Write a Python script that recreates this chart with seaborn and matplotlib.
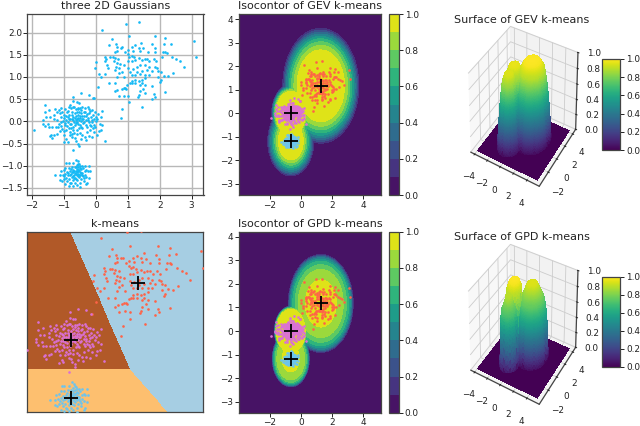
import numpy as np
import matplotlib
matplotlib.use("Agg")
import matplotlib.pyplot as plt
import seaborn as sns
from matplotlib.colors import Normalize
from matplotlib.cm import ScalarMappable

cluster_a = [(0.21,2.07),(0.96,2.19),(1.34,2.23),(1.04,1.92),(1.84,1.92),(2.17,1.88),(2.35,1.75),(2.14,1.74),(0.52,1.86),(3.08,1.82),(3.13,1.46),(0.42,1.71),(0.64,1.74),(0.66,1.67),(0.66,1.59),(0.78,1.66),(0.83,1.68),(0.59,1.57),(0.91,1.57),(1.01,1.61),(1.13,1.67),(1.23,1.71),(1.42,1.77),(1.36,1.66),(1.49,1.65),(1.39,1.59),(1.16,1.59),(1.62,1.57),(1.77,1.74),(1.85,1.65),(1.86,1.57),(2.09,1.56),(2.17,1.56),(2.22,1.55),(0,1.33),(-0.02,1.2),(0.3,1.46),(0.33,1.4),(0.3,1.35),(0.34,1.27),(0.38,1.21),(0.45,1.44),(0.53,1.44),(0.61,1.42),(0.57,1.36),(0.66,1.31),(0.71,1.41),(0.64,1.23),(0.76,1.29),(0.87,1.27),(0.73,1.21),(0.6,1.16),(0.81,1.11),(0.73,1.08),(0.66,0.99),(0.89,0.99),(1.0,1.51),(1.05,1.46),(1.13,1.48),(1.2,1.44),(1.02,1.35),(1.13,1.35),(1.23,1.38),(1.34,1.42),(1.44,1.38),(1.53,1.4),(1.6,1.41),(1.68,1.35),(1.81,1.4),(1.88,1.35),(2.07,1.44),(2.38,1.46),(2.52,1.41),(2.64,1.37),(2.75,1.22),(2.41,1.1),(2.26,1.02),(2.04,1.11),(1.96,1.14),(2.12,1.03),(1.91,1.2),(1.96,1.01),(2.04,0.93),(2,0.89),(1.86,1.23),(1.65,1.23),(1.55,1.27),(1.39,1.27),(1.29,1.23),(1.02,1.2),(1.16,1.18),(1.06,1.11),(1.29,1.12),(1.44,1.14),(1.6,1.16),(1.76,1.14),(1.13,1.05),(1.23,1.05),(1.39,1.06),(1.55,1.05),(1.65,1.05),(1.55,0.97),(1.44,0.93),(1.34,0.91),(1.23,0.93),(1.13,0.91),(1.06,0.86),(0.99,0.83),(1.13,0.86),(1.23,0.86),(1.37,0.82),(1.44,0.86),(1.55,0.82),(1.76,0.8),(1.49,0.73),(1.37,0.68),(1.34,0.59),(1.32,0.55),(1.55,0.63),(1.83,0.62),(1.86,0.56),(1.76,0.5),(2.18,0.66),(0.92,0.76),(0.87,0.76),(0.81,0.74),(0.95,0.73),(0.61,0.86),(0.68,0.71),(0.61,0.68),(0.4,0.86),(0.07,0.78),(-0.05,0.52),(0.16,0.99),(0.1,1.06),(0.3,1.06),(1.02,0.57),(0.89,0.58),(0.73,0.57),(1.04,0.43),(0.83,0.28),(0.78,0.08),(1.46,0.32)]
cluster_b = [(-1.92,-0.2),(0.3,-0.44),(-0.45,0.63),(-0.22,0.6),(-0.08,0.52),(-0.7,0.56),(-0.6,0.43),(-0.53,0.42),(-0.7,0.45),(-1.6,0.37),(-1.6,0.2),(-1.55,0.1),(-1.65,-0.05),(-1.65,0.02),(-1.6,-0.1),(-1.45,0.25),(-1.42,0.1),(-1.5,-0.05),(-1.45,-0.12),(-1.38,-0.12),(-1.3,0.15),(-1.25,-0.12),(-1.39,-0.3),(-1.42,-0.33),(-1.38,-0.38),(-1.3,-0.3),(-1.22,-0.28),(-1.12,-0.22),(-1.05,-0.18),(-1.0,-0.47),(-0.98,-0.3),(-0.92,-0.4),(-0.88,-0.46),(-0.82,-0.3),(-0.8,-0.24),(-0.73,-0.36),(-0.62,-0.45),(-0.55,-0.5),(-0.53,-0.56),(-0.72,-0.65),(-1.1,0.3),(-1.12,0.18),(-1.1,0.1),(-1.05,0.22),(-1.0,0.08),(-1.02,0),(-0.95,-0.03),(-0.92,0.03),(-0.88,0.1),(-0.85,0.05),(-0.82,-0.05),(-0.9,-0.1),(-0.85,-0.15),(-0.78,0.3),(-0.75,0.15),(-0.72,0.1),(-0.7,0.02),(-0.65,-0.08),(-0.65,0.18),(-0.62,0.12),(-0.6,0.05),(-0.58,-0.02),(-0.55,0.3),(-0.52,0.2),(-0.5,0.12),(-0.48,0.07),(-0.45,0),(-0.5,-0.08),(-0.52,-0.15),(-0.6,-0.2),(-0.42,-0.15),(-0.4,0.05),(-0.38,0.2),(-0.35,0.3),(-0.32,0.12),(-0.3,0.02),(-0.3,-0.08),(-0.28,-0.25),(-0.25,0.33),(-0.22,0.28),(-0.2,0.18),(-0.15,0.1),(-0.12,0.03),(-0.15,-0.1),(-0.1,-0.15),(-0.07,-0.25),(-0.03,0.22),(0,0.1),(0.02,0),(0.2,0.23),(0.15,0.1),(0.12,-0.05),(0.2,-0.08),(0.17,-0.2),(0.1,-0.22),(0.05,-0.3),(0.08,0.17),(-0.35,-0.35),(-0.42,-0.3),(-0.32,-0.42),(-0.75,0.2),(-0.8,0.38),(-0.85,0.33),(-0.72,0.32),(-0.68,0.32),(-0.95,0.28),(-0.9,0.22),(-0.98,0.15),(-0.7,-0.12),(-0.78,-0.15),(-0.72,-0.2),(-0.6,-0.28),(-0.65,-0.38),(-1.1,-0.02),(-1.2,0.02),(-1.15,-0.05),(-1.3,0.05),(-0.45,0.25),(-0.42,0.12),(-0.55,0.08),(-0.62,-0.03),(-0.25,0.08),(-0.22,-0.02),(-0.05,0.05),(-0.18,-0.2),(-0.55,0.27),(-0.48,0.3),(-1.22,0.2),(-0.6,0.22),(-0.62,0.28),(-1.15,0.25),(-0.97,-0.08),(-0.93,0.12),(-0.88,-0.02),(-0.83,0.14),(-0.8,0.06),(-0.77,-0.06),(-0.74,0.05),(-0.68,-0.02),(-0.66,0.08),(-0.63,0.02),(-0.57,0.14),(-0.54,-0.05),(-0.51,0.04),(-0.47,0.18),(-0.46,-0.12),(-0.43,0.06),(-0.41,-0.04),(-0.37,0.11),(-0.36,-0.02),(-0.33,0.22),(-0.28,0.17),(-0.27,-0.12),(-0.24,0.02),(-0.19,-0.08),(-0.17,0.24),(-0.13,-0.02),(-0.08,0.14),(-0.06,-0.08),(-0.02,-0.12),(0.05,0.06),(-1.17,-0.12),(-1.08,-0.1),(-1.0,-0.22),(-0.93,-0.2),(-0.75,-0.28),(-0.68,-0.26),(-0.5,-0.26),(-0.45,-0.4),(-0.22,-0.34),(-0.12,-0.36),(-1.27,0.28),(-0.87,0.24),(-0.42,0.33),(-0.12,0.25)]
cluster_c = [(-1.27,-1.22),(-1.1,-1.12),(-1.12,-1.22),(-1.13,-1.32),(-1.05,-1.35),(-1.0,-1.1),(-1.02,-1.2),(-1.0,-1.3),(-0.95,-1.42),(-0.85,-1.45),(-0.92,-0.93),(-0.85,-0.93),(-0.72,-0.93),(-0.62,-0.86),(-0.57,-0.9),(-0.52,-0.96),(-0.42,-1.0),(-0.35,-1.0),(-0.2,-1.0),(-0.18,-1.12),(-0.25,-1.13),(-0.3,-1.25),(-0.2,-1.27),(-0.27,-1.38),(-0.3,-1.42),(-0.5,-1.47),(-0.72,-1.45),(-0.8,-1.38),(-0.95,-1.05),(-0.9,-1.15),(-0.88,-1.22),(-0.85,-1.05),(-0.83,-1.3),(-0.8,-1.12),(-0.78,-1.18),(-0.75,-1.02),(-0.75,-1.25),(-0.72,-1.32),(-0.7,-1.1),(-0.7,-1.15),(-0.68,-1.2),(-0.66,-1.03),(-0.65,-1.27),(-0.63,-1.12),(-0.62,-1.18),(-0.6,-0.98),(-0.6,-1.08),(-0.6,-1.22),(-0.58,-1.33),(-0.57,-1.13),(-0.55,-1.03),(-0.55,-1.18),(-0.53,-1.26),(-0.52,-1.09),(-0.5,-1.14),(-0.5,-1.38),(-0.48,-1.0),(-0.48,-1.22),(-0.45,-1.08),(-0.45,-1.3),(-0.42,-1.16),(-0.4,-1.05),(-0.4,-1.24),(-0.38,-1.35),(-0.35,-1.12),(-0.33,-1.2),(-0.9,-1.35),(-0.95,-1.18),(-0.78,-1.4),(-0.65,-1.38),(-0.6,-1.43),(-0.55,-0.95),(-0.86,-1.16),(-0.82,-1.2),(-0.77,-1.08),(-0.73,-1.14),(-0.71,-1.23),(-0.67,-1.13),(-0.64,-1.16),(-0.61,-1.04),(-0.59,-1.15),(-0.56,-1.24),(-0.54,-1.1),(-0.51,-1.2),(-0.49,-1.06),(-0.47,-1.17),(-0.68,-1.28),(-0.62,-1.31),(-0.44,-1.21),(-0.98,-1.24),(-0.92,-1.28),(-0.3,-1.1),(-0.36,-1.28)]

centers = [(1.27, 1.17), (-0.65, 0.0), (-0.65, -1.18)]
center_names = ["A", "B", "C"]
region_colors = [0, 2, 1]

profile_levels = [1.0, 0.99, 0.9, 0.8, 0.7, 0.6, 0.5, 0.4, 0.3, 0.2, 0.1, 0.0]
gev_radii = {
    "A": [0, 1.00, 1.53, 1.72, 1.87, 2.00, 2.10, 2.20, 2.28, 2.36, 2.44, 2.50],
    "B": [0, 0.60, 0.95, 1.00, 1.04, 1.08, 1.11, 1.14, 1.17, 1.20, 1.22, 1.25],
    "C": [0, 0.50, 0.80, 0.92, 1.02, 1.12, 1.20, 1.28, 1.36, 1.42, 1.48, 1.52],
}
gpd_radii = {
    "A": [0, 0.60, 1.00, 1.45, 1.65, 1.80, 1.88, 1.95, 2.00, 2.04, 2.08, 2.12],
    "B": [0, 0.60, 0.93, 0.96, 0.98, 1.00, 1.01, 1.02, 1.03, 1.04, 1.05, 1.07],
    "C": [0, 0.35, 0.55, 0.90, 1.00, 1.06, 1.10, 1.13, 1.15, 1.17, 1.19, 1.21],
}
contour_levels = [0.0, 0.1, 0.2, 0.3, 0.4, 0.5, 0.6, 0.7, 0.8, 0.9, 1.0]
cbar_ticks = [0.0, 0.2, 0.4, 0.6, 0.8, 1.0]

titles = ["three 2D Gaussians", "k-means", "Isocontor of GEV k-means",
          "Isocontor of GPD k-means", "Surface of GEV k-means", "Surface of GPD k-means"]

sns.set_style("ticks")
plt.rcParams.update({"font.family": "DejaVu Sans", "font.size": 6.4,
                     "text.color": "#222222", "xtick.color": "#222222", "ytick.color": "#222222",
                     "xtick.direction": "out", "ytick.direction": "out",
                     "xtick.major.size": 2.8, "ytick.major.size": 2.8,
                     "xtick.major.width": 0.7, "ytick.major.width": 0.7,
                     "xtick.major.pad": 1.2, "ytick.major.pad": 1.5,
                     "axes.edgecolor": "#444444", "axes.linewidth": 0.9,
                     "axes.titlesize": 8.0, "axes.titlepad": 3.5,
                     "xtick.labelsize": 6.4, "ytick.labelsize": 6.4})

W, H = 640, 426
fig = plt.figure(figsize=(6.4, 4.26), dpi=100)


def rect(x0, y0, x1, y1):
    return [x0 / W, 1 - y1 / H, (x1 - x0) / W, (y1 - y0) / H]


a = np.array(cluster_a)
b = np.array(cluster_b)
c = np.array(cluster_c)
all_pts = np.vstack([a, b, c])
cen = np.array(centers)

COL_A, COL_B, COL_C = "#FF6347", "#DA70D6", "#6CC4EE"


def scatter(ax, pts, color, s=3.6):
    sns.scatterplot(x=pts[:, 0], y=pts[:, 1], ax=ax, color=color, s=s, linewidth=0, zorder=3)


def three(ax):
    scatter(ax, a, COL_A)
    scatter(ax, b, COL_B)
    scatter(ax, c, COL_C)
    ax.plot(cen[:, 0], cen[:, 1], "+", color="black", ms=9.5, mew=1.3, zorder=4, ls="none")


# panel 1
ax = fig.add_axes(rect(27, 14, 203.5, 195))
scatter(ax, all_pts, "#14B9F5")
ax.set_xlim(-2.15, 3.37)
ax.set_ylim(-1.66, 2.42)
ax.set_xticks([-2, -1, 0, 1, 2, 3])
ax.set_yticks([-1.5, -1.0, -0.5, 0.0, 0.5, 1.0, 1.5, 2.0])
ax.tick_params(axis="y", pad=0.8)
ax.grid(True, color="#b8b8b8", lw=1.0)
ax.set_axisbelow(True)
ax.set_title(titles[0])

# panel k-means
ax = fig.add_axes(rect(27, 232, 203.5, 412))
xlim_k, ylim_k = (-1.92, 3.14), (-1.47, 2.2)
gx, gy = np.meshgrid(np.linspace(*xlim_k, 360), np.linspace(*ylim_k, 360))
dist = np.stack([(gx - p[0]) ** 2 + (gy - p[1]) ** 2 for p in centers])
label = np.array(region_colors)[dist.argmin(axis=0)]
ax.pcolormesh(gx, gy, label, cmap="Paired", vmin=0, vmax=2, shading="auto", rasterized=True)
three(ax)
ax.set_xlim(*xlim_k)
ax.set_ylim(*ylim_k)
ax.set_xticks([])
ax.set_yticks([])
ax.set_title(titles[1])

# fields
xs = np.linspace(-3.97, 5.13, 260)
ys = np.linspace(-3.47, 4.22, 260)
X, Y = np.meshgrid(xs, ys)


def field(radii, peaks=(1.0, 1.0, 1.0)):
    out = np.zeros_like(X)
    for (cx, cy), name, peak in zip(centers, center_names, peaks):
        d = np.hypot(X - cx, Y - cy)
        lv = np.interp(d, radii[name], profile_levels) * peak
        out = np.maximum(out, lv)
    return out


gev = field(gev_radii)
gpd = field(gpd_radii)

for (y0, y1), Z, t in [((14, 195), gev, titles[2]), ((231.7, 412.7), gpd, titles[3])]:
    ax = fig.add_axes(rect(239, y0, 381, y1))
    cf = ax.contourf(X, Y, Z, levels=contour_levels, cmap="viridis", vmin=0, vmax=1)
    three(ax)
    ax.set_xlim(-3.97, 5.13)
    ax.set_ylim(-3.47, 4.22)
    ax.set_xticks([-2, 0, 2, 4])
    ax.set_yticks([-3, -2, -1, 0, 1, 2, 3, 4])
    ax.set_title(t)
    cax = fig.add_axes(rect(389.3, y0, 398.7, y1))
    cb = fig.colorbar(cf, cax=cax)
    cb.set_ticks(cbar_ticks)
    cb.outline.set_linewidth(0.9)

# surfaces
gev_s = field(gev_radii, peaks=(1.0, 0.97, 0.95))
gpd_s = field(gpd_radii, peaks=(0.95, 1.0, 0.9))
for (top, bottom, cy0, cy1, ty), Z, t in [((12, 198, 59, 150, 20), gev_s, titles[4]),
                                          ((230, 416, 277, 367, 237), gpd_s, titles[5])]:
    ax = fig.add_axes(rect(461.5, top, 583.5, bottom), projection="3d")
    ax.apply_aspect = lambda position=None: None
    ax.patch.set_alpha(0)
    surf = ax.plot_surface(X, Y, Z, cmap="viridis", vmin=0, vmax=1, rstride=1, cstride=1,
                           linewidth=0, antialiased=False, alpha=0.9)
    ax.set_zlim(0, 1)
    ax.set_xticks([-4, -2, 0, 2, 4])
    ax.set_yticks([-2, 0, 2, 4])
    ax.set_zticks(cbar_ticks)
    ax.tick_params(axis="both", pad=0)
    ax.tick_params(axis="z", pad=1)
    for axis in (ax.xaxis, ax.yaxis, ax.zaxis):
        axis._axinfo["grid"]["linewidth"] = 0.6
    fig.text(522 / W, 1 - ty / H, t, ha="center", va="center", fontsize=8.0)
    cax = fig.add_axes(rect(602, cy0, 620, cy1))
    cb = fig.colorbar(ScalarMappable(Normalize(0, 1), "viridis"), cax=cax)
    cb.set_ticks(cbar_ticks)
    cb.outline.set_linewidth(0.9)

fig.savefig("out.png", dpi=100)
